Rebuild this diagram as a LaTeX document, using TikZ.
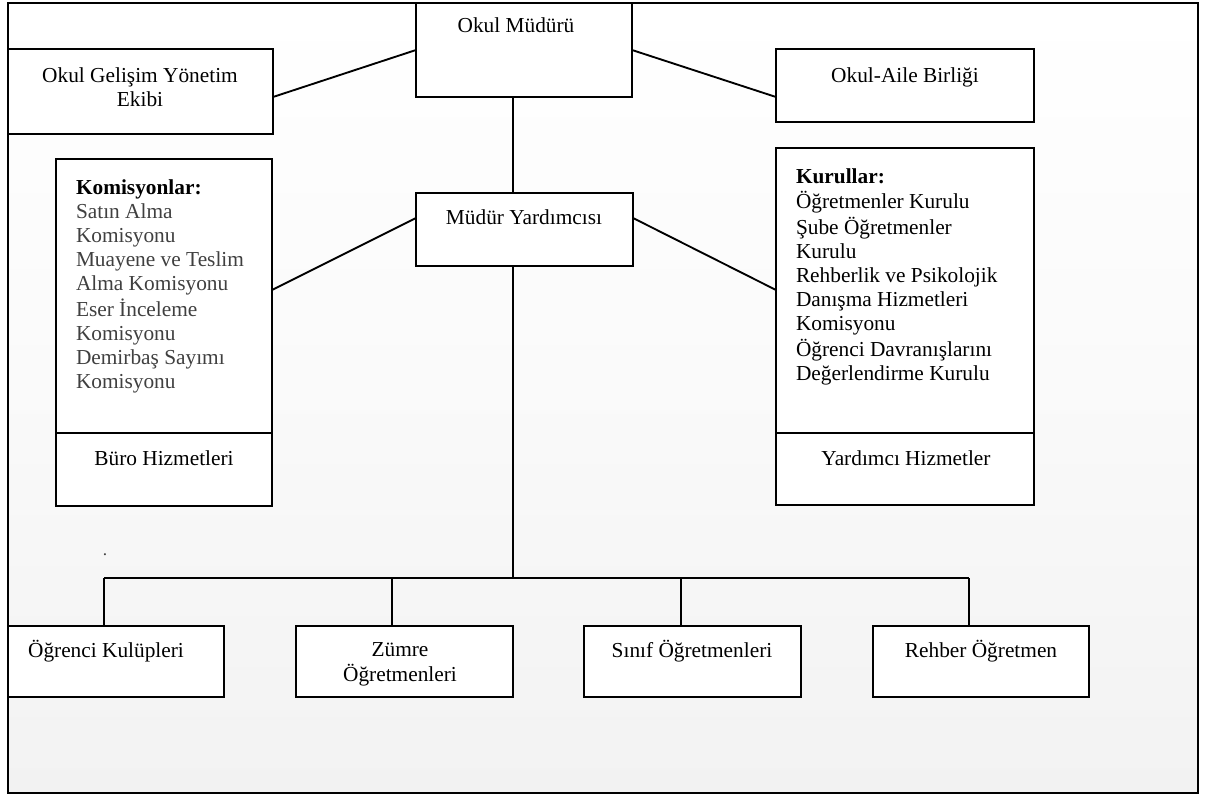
\documentclass[tikz,border=0pt]{standalone}
\usepackage{fontspec}
\setmainfont{Liberation Serif}
\usetikzlibrary{fit}
\definecolor{bggray}{RGB}{242,242,242}
\definecolor{itemgray}{RGB}{64,64,64}
\begin{document}
\begin{tikzpicture}[x=0.75pt,y=-0.75pt,
  box/.style={draw=black, fill=white, line width=1.4pt, inner sep=0pt, outer sep=0pt},
  conn/.style={line width=1.4pt, draw=black},
  lbl/.style={inner sep=0pt, outer sep=0pt, font=\fontsize{16}{18}\selectfont},
  ]
\useasboundingbox (0,0) rectangle (1205,796);
\fill[white] (0,0) rectangle (1205,796);
\shade[top color=white, bottom color=bggray, middle color=white!60!bggray] (8,3) rectangle (1198,793);
\draw[line width=1.8pt] (8,3) rectangle (1198,793);

% top level
\node[box, fit={(416,3)(632,97)}] (om) {};
\node[lbl, anchor=base] (omt) at (516,32) {Okul Müdürü};

\node[box, fit={(8,49)(273,134)}] (og) {};
\node[lbl, anchor=north, align=center] (ogt) at (140,65.2) {\strut Okul Gelişim Yönetim\\\strut Ekibi};

\node[box, fit={(776,49)(1034,122)}] (oa) {};
\node[lbl, anchor=base] (oat) at (905,82) {Okul-Aile Birliği};

% second level
\node[box, fit={(416,193)(633,266)}] (my) {};
\node[lbl, anchor=base] (myt) at (524,224) {Müdür Yardımcısı};

\node[box, fit={(56,159)(272,433)}] (kom) {};
\node[box, fit={(56,433)(272,506)}] (buro) {};
\node[lbl, anchor=north west, align=left, text=itemgray] (komt) at (76,177.2)
  {\strut\textcolor{black}{\textbf{Komisyonlar:}}\\\strut Satın Alma\\\strut Komisyonu\\\strut Muayene ve Teslim\\\strut Alma Komisyonu\\\strut Eser İnceleme\\\strut Komisyonu\\\strut Demirbaş Sayımı\\\strut Komisyonu};
\node[lbl, anchor=base] (burot) at (164,465) {Büro Hizmetleri};

\node[box, fit={(776,148)(1034,433)}] (kur) {};
\node[box, fit={(776,433)(1034,505)}] (yard) {};
\node[lbl, anchor=north west, align=left] (kurt) at (796,166.2)
  {\strut\textbf{Kurullar:}\\\strut Öğretmenler Kurulu\\\strut Şube Öğretmenler\\\strut Kurulu\\\strut Rehberlik ve Psikolojik\\\strut Danışma Hizmetleri\\\strut Komisyonu\\\strut Öğrenci Davranışlarını\\\strut Değerlendirme Kurulu};
\node[lbl, anchor=base] (yardt) at (906,465) {Yardımcı Hizmetler};

% bottom level
\node[box, fit={(8,626)(224,697)}] (ogr) {};
\node[lbl, anchor=base] (ogrt) at (106,657) {Öğrenci Kulüpleri};
\node[box, fit={(296,626)(513,697)}] (zum) {};
\node[lbl, anchor=north, align=center] (zumt) at (400,639.2) {\strut Zümre\\\strut Öğretmenleri};
\node[box, fit={(584,626)(801,697)}] (sin) {};
\node[lbl, anchor=base] (sint) at (692,657) {Sınıf Öğretmenleri};
\node[box, fit={(873,626)(1089,697)}] (reh) {};
\node[lbl, anchor=base] (reht) at (981,657) {Rehber Öğretmen};

\node[inner sep=0pt, anchor=base, font=\fontsize{13}{14}\selectfont, text=itemgray] (dot) at (105,555) {.};

% connectors
\coordinate (bus) at (513,578);
\coordinate (d1) at (104,578);
\coordinate (d2) at (392,578);
\coordinate (d3) at (681,578);
\coordinate (d4) at (969,578);
\draw[conn] (om.west) -- (og.east |- 0,97);
\draw[conn] (om.east) -- (oa.west |- 0,97);
\draw[conn] (om.south -| bus) -- (my.north -| bus);
\draw[conn] (my.west |- 0,218) -- (kom.east |- 0,290);
\draw[conn] (my.east |- 0,218) -- (kur.west |- 0,290);
\draw[conn] (my.south -| bus) -- (bus);
\draw[conn] (d1) -- (d4);
\draw[conn] (d1) -- (d1 |- ogr.north);
\draw[conn] (d2) -- (d2 |- zum.north);
\draw[conn] (d3) -- (d3 |- sin.north);
\draw[conn] (d4) -- (d4 |- reh.north);
\end{tikzpicture}
\end{document}
